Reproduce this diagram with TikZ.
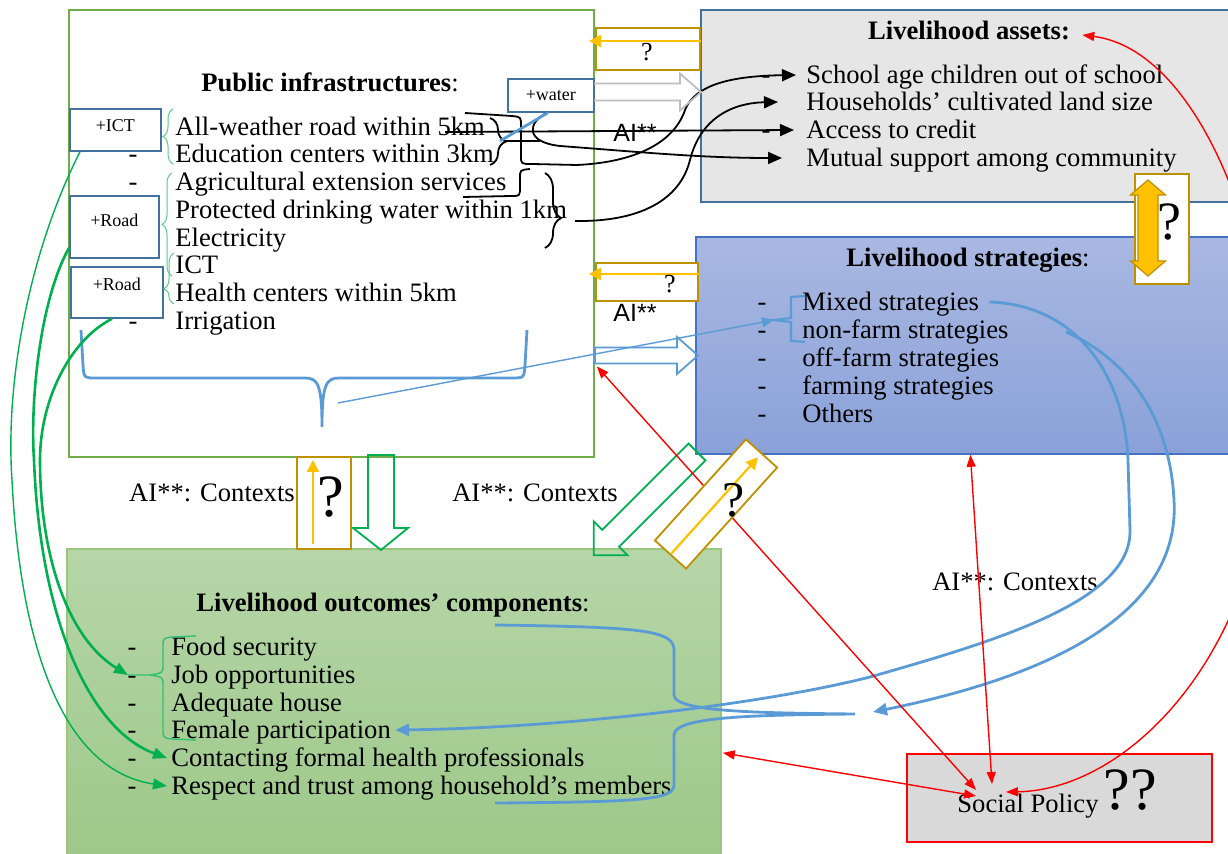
\documentclass[tikz,border=0pt]{standalone}
\usepackage{fontspec}
\setmainfont{Liberation Serif}
\newfontfamily\arialfont{Liberation Sans}
\usetikzlibrary{arrows.meta,decorations.pathreplacing}

\definecolor{infragreen}{HTML}{70AD47}
\definecolor{tagblue}{HTML}{41719C}
\definecolor{qgold}{HTML}{BF9000}
\definecolor{amber}{HTML}{FFC000}
\definecolor{arrgreen}{HTML}{00B050}
\definecolor{lineblue}{HTML}{5B9BD5}
\definecolor{assetgray}{HTML}{E7E6E6}
\definecolor{stratborder}{HTML}{4472C4}
\definecolor{strattop}{RGB}{169,184,226}
\definecolor{stratbot}{RGB}{138,161,216}
\definecolor{outtop}{RGB}{182,214,168}
\definecolor{outbot}{RGB}{157,200,137}
\definecolor{policygray}{HTML}{D9D9D9}
\definecolor{arrowgray}{RGB}{190,190,190}

\begin{document}
\begin{tikzpicture}[x=0.5pt, y=-0.5pt,
    box/.style={anchor=north west, inner sep=0pt, line width=0.9pt},
    item/.style={anchor=west, inner sep=0pt, text height=12pt, text depth=3pt, font=\fontsize{13.3}{16}\selectfont},
    hyph/.style={inner sep=0pt, text height=12pt, text depth=3pt, font=\fontsize{13.3}{16}\selectfont},
    head/.style={inner sep=0pt, text height=12pt, text depth=3pt, font=\fontsize{13.3}{16}\selectfont},
    tag/.style={draw=tagblue, line width=0.9pt, fill=white, anchor=north west, inner sep=0pt, font=\fontsize{9}{10}\selectfont},
    qbox/.style={draw=qgold, line width=0.9pt, fill=white, inner sep=0pt},
    qmark/.style={inner sep=0pt},
    qarrow/.style={amber, line width=1.1pt, -{Triangle[length=6pt,width=6pt]}},
    ctx/.style={inner sep=0pt, font=\fontsize{13.3}{16}\selectfont},
    ai/.style={inner sep=0pt, font=\arialfont\fontsize{12.5}{14}\selectfont},
    blk/.style={black, line width=0.9pt},
    blkarr/.style={blk, -{Triangle[length=7pt,width=6pt]}},
    redarr/.style={red, line width=0.7pt, {Triangle[length=6pt,width=4.5pt]}-{Triangle[length=6pt,width=4.5pt]}},
    bluethick/.style={lineblue, line width=1.4pt},
    bluethin/.style={lineblue, line width=0.7pt},
    grnthick/.style={arrgreen, line width=1.3pt, -{Triangle[length=7pt,width=5.5pt]}},
    grnthin/.style={arrgreen, line width=0.7pt, -{Triangle[length=7pt,width=5.5pt]}},
    gbrace/.style={arrgreen!65, line width=0.5pt, decorate, decoration={brace, amplitude=5pt}},
    bbrace/.style={blk, decorate, decoration={brace, amplitude=8pt}},
  ]
  \useasboundingbox (0,0) rectangle (1228,854);

  % Boxes
  \node[box, draw=infragreen, fill=white, minimum width=262.5pt, minimum height=223.5pt] (infra) at (68,9) {};
  \node[box, draw=tagblue, fill=assetgray, minimum width=266pt, minimum height=96pt] (assets) at (700,9) {};
  \node[box, draw=stratborder, top color=strattop, bottom color=stratbot, minimum width=268.5pt, minimum height=108.5pt] (strat) at (695,236) {};
  \node[box, draw=infragreen!70, top color=outtop, bottom color=outbot, minimum width=327pt, minimum height=155pt] (outc) at (66,548) {};
  \node[box, draw=red, fill=policygray, minimum width=152.5pt, minimum height=44pt] (social) at (906,753) {};

  % Public infrastructures
  \node[head] (ititle) at (330,83) {\textbf{Public infrastructures}:};
  \node[item] (i1) at (175,127) {All-weather road within 5km};
  \node[item] (i2) at (175,154) {Education centers within 3km};
  \node[item] (i3) at (175,182) {Agricultural extension services};
  \node[item] (i4) at (175,210) {Protected drinking water within 1km};
  \node[item] (i5) at (175,238) {Electricity};
  \node[item] (i6) at (175,265) {ICT};
  \node[item] (i7) at (175,293) {Health centers within 5km};
  \node[item] (i8) at (175,321) {Irrigation};
  \foreach \y/\n in {154/1,182/2,321/3} \node[hyph] (ih\n) at (133,\y) {-};

  % Livelihood assets
  \node[head] (atitle) at (969,31) {\textbf{Livelihood assets:}};
  \node[item] (a1) at (806,75) {School age children out of school};
  \node[item] (a2) at (806,102) {Households’ cultivated land size};
  \node[item] (a3) at (806,130) {Access to credit};
  \node[item] (a4) at (806,158) {Mutual support among community};
  \foreach \y/\n in {75/1,130/2} \node[hyph] (ah\n) at (766,\y) {-};

  % Livelihood strategies
  \node[head] (stitle) at (968,258) {\textbf{Livelihood strategies}:};
  \node[item] (s1) at (802,302) {Mixed strategies};
  \node[item] (s2) at (802,330) {non-farm strategies};
  \node[item] (s3) at (802,358) {off-farm strategies};
  \node[item] (s4) at (802,386) {farming strategies};
  \node[item] (s5) at (802,414) {Others};
  \foreach \y/\n in {302/1,330/2,358/3,386/4,414/5} \node[hyph] (sh\n) at (762,\y) {-};

  % Livelihood outcomes
  \node[head] (otitle) at (393,603) {\textbf{Livelihood outcomes’ components}:};
  \node[item] (o1) at (171,647) {Food security};
  \node[item] (o2) at (171,675) {Job opportunities};
  \node[item] (o3) at (171,703) {Adequate house};
  \node[item] (o4) at (171,730) {Female participation};
  \node[item] (o5) at (171,758) {Contacting formal health professionals};
  \node[item] (o6) at (171,786) {Respect and trust among household’s members};
  \foreach \y/\n in {647/1,675/2,703/3,730/4,758/5,786/6} \node[hyph] (oh\n) at (132,\y) {-};

  % Social policy
  \node[ctx] (sptext) at (1028,806) {Social Policy};
  \node[qmark, font=\fontsize{30}{30}\selectfont] (spq) at (1130,790) {??};

  % Context labels
  \node[ctx] (ctx1) at (212,493) {AI**: Contexts};
  \node[ctx] (ctx2) at (535,493) {AI**: Contexts};
  \node[ctx] (ctx3) at (1015,582) {AI**: Contexts};
  \node[ai] (ai1) at (635,133) {AI**};
  \node[ai] (ai2) at (635,313) {AI**};

  % Tags
  \node[tag, minimum width=45.5pt, minimum height=21pt, text depth=4pt] (ict) at (69,108) {+ICT};
  \node[tag, minimum width=44.5pt, minimum height=31pt, text depth=7pt] (road1) at (69,195) {+Road};
  \node[tag, minimum width=46pt, minimum height=25.5pt, text depth=8.5pt] (road2) at (70,266) {+Road};
  \node[tag, minimum width=43pt, minimum height=16.5pt] (water) at (507,78) {+water};

  % Green braces
  \draw[gbrace] (173,164) -- (173,109);
  \draw[gbrace, decoration={aspect=0.5}] (172,276) -- (172,173);
  \draw[gbrace, decoration={aspect=0.3}] (174,304) -- (174,253);
  \coordinate (obrace) at (128,675);
  \draw[arrgreen!80, line width=0.7pt] (196,636) -- (172,637) .. controls (163,638) .. (163,648) -- (163,664)
    .. controls (163,673) .. (150,675) -- (obrace);
  \draw[arrgreen!80, line width=0.7pt] (150,675) .. controls (163,677) .. (163,686) -- (163,728)
    .. controls (163,738) .. (172,739) -- (196,740);

  % Black braces and arrows to assets
  \draw[bbrace] (490,118) -- (490,165);
  \draw[bbrace, decoration={aspect=0.6}] (545,173) -- (545,248);
  \coordinate (hookA) at (465,113);
  \coordinate (hookB) at (463,197);
  \coordinate (credit0) at (445,132);
  \coordinate (bracetipB) at (575,221);
  \coordinate (school0) at (577,165);
  \draw[blk] (hookA) -- (512,116) .. controls (521,117) .. (521,126) -- (521,156)
    .. controls (521,164) .. (532,164) -- (school0);
  \draw[blk] (hookB) -- (512,196) .. controls (520,196) .. (520,186) -- (520,178)
    .. controls (520,170) .. (530,169);
  \draw[blk] (505,141) -- (540,141);
  \draw[blkarr] (credit0) -- ([xshift=-6pt]a3.west);
  \draw[blkarr] (school0) .. controls (640,162) and (675,140) .. (685,110)
    .. controls (695,85) and (730,76) .. ([xshift=-5pt]a1.west);
  \draw[blkarr] (bracetipB) .. controls (640,222) and (680,200) .. (690,160)
    .. controls (700,120) and (730,103) .. ([xshift=-14pt]a2.west);
  \draw[blkarr] ([xshift=-2pt]water.south) .. controls (528,122) and (524,142) .. (560,146)
    .. controls (640,152) and (700,158) .. ([xshift=-12pt]a4.west);
  \coordinate (wlink) at (500,141);
  \draw[bluethick] ([xshift=-1.5pt]water.south) -- (wlink);

  % Hollow arrows
  \draw[arrowgray, line width=0.9pt] (594,83.5) -- (680,83.5) -- (680,73.5) -- (701,92) -- (680,110.5) -- (680,100.5) -- (594,100.5);
  \draw[lineblue, line width=0.9pt] (595,347.5) -- (677,347.5) -- (677,337) -- (698,355.5) -- (677,374) -- (677,363.5) -- (595,363.5) -- cycle;
  \draw[arrgreen, line width=0.9pt] (368,455) -- (368,528) -- (353,528) -- (381,550) -- (408,528) -- (394,528) -- (394,455) -- cycle;
  \begin{scope}[shift={(697,452)}, rotate=225]
    \draw[arrgreen, line width=0.9pt] (0,-12) -- (122,-12) -- (122,-24) -- (146,0) -- (122,24) -- (122,12) -- (0,12) -- cycle;
  \end{scope}

  % Blue braces and curves
  \coordinate (brtip) at (338,403);
  \coordinate (sbrtip) at (774,320);
  \draw[bluethick] (81,330) -- (83,365) .. controls (84,378) .. (95,378) -- (305,378)
    .. controls (318,378) and (322,385) .. (322,427) .. controls (322,385) and (326,378) .. (339,378)
    -- (512,378) .. controls (524,378) .. (525,365) -- (527,330);
  \draw[bluethin, -{Triangle[length=6pt,width=5pt]}] (brtip) -- (sbrtip);
  \draw[bluethick, line width=1.1pt] (805,296) -- (791,297) -- (791,318) -- (sbrtip) -- (791,322) -- (791,341) -- (805,342);
  \coordinate (ostart) at (495,625);
  \coordinate (oend) at (495,803);
  \coordinate (obtip) at (855,714);
  \draw[bluethick] (ostart) .. controls (640,627) and (674,630) .. (674,650) -- (674,695)
    .. controls (674,712) and (760,713) .. (obtip) .. controls (760,715) and (674,716) .. (674,735)
    -- (674,785) .. controls (674,800) and (640,802) .. (oend);
  \draw[bluethick, -{Triangle[length=7pt,width=6pt]}] ([xshift=5pt]s1.east) .. controls (1080,305) and (1125,380) .. (1128,460)
    -- (1130,530) .. controls (1132,600) and (1000,640) .. (870,677)
    .. controls (760,705) and (560,728) .. ([xshift=2pt]o4.east);
  \coordinate (c2start) at (1066,332);
  \coordinate (c2end) at (873,712);
  \draw[bluethick, -{Triangle[length=7pt,width=6pt]}] (c2start) .. controls (1130,360) and (1170,420) .. (1174,500)
    .. controls (1180,600) and (1080,670) .. (c2end);

  % Green curves
  \draw[grnthin] ([xshift=5.5pt]ict.south west) .. controls (30,250) and (5,380) .. (12,480)
    .. controls (20,640) and (60,770) .. ([xshift=-2pt]o6.west);
  \draw[grnthick] ([yshift=-10.5pt]road1.west) .. controls (40,300) and (30,400) .. (34,460)
    .. controls (40,620) and (90,730) .. ([xshift=-2pt]o5.west);
  \draw[grnthick] ([xshift=21pt]road2.south west) .. controls (70,340) and (40,400) .. (40,460)
    .. controls (40,560) and (70,640) .. (obrace);

  % Red links to social policy
  \coordinate (hub) at (992,784);
  \draw[redarr] ([xshift=3pt]strat.south) -- (hub);
  \draw[redarr] ([xshift=1pt,yshift=-66.5pt]infra.east) -- ([xshift=-8pt,yshift=-3pt]hub);
  \draw[redarr] ([xshift=0.5pt,yshift=-24.5pt]outc.east) -- ([xshift=-8pt,yshift=-6pt]hub);
  \draw[redarr] ([xshift=6pt,yshift=-2pt]atitle.east) .. controls (1200,50) and (1275,250) .. (1272,420)
    .. controls (1268,650) and (1130,790) .. ([xshift=7pt,yshift=-4pt]hub);

  % Question boxes
  \node[qbox, anchor=north west, minimum width=52pt, minimum height=21pt] (qa) at (595,27) {};
  \draw[qarrow] ([yshift=-7pt]qa.north east) -- ([xshift=-3pt,yshift=-7pt]qa.north west);
  \node[qmark, font=\fontsize{13}{13}\selectfont] (qaq) at (647,52) {?};
  \node[qbox, anchor=north west, minimum width=51pt, minimum height=19pt] (qb) at (595,262) {};
  \draw[qarrow] ([yshift=-6pt]qb.north east) -- ([xshift=-3pt,yshift=-6pt]qb.north west);
  \node[qmark, font=\fontsize{13}{13}\selectfont] (qbq) at (670,284) {?};
  \node[qbox, anchor=north west, minimum width=27pt, minimum height=46pt] (qc) at (296,456) {};
  \draw[qarrow] ([xshift=8.5pt,yshift=3pt]qc.south west) -- ([xshift=8.5pt,yshift=-2pt]qc.north west);
  \node[qmark, font=\fontsize{30}{30}\selectfont] (qcq) at (331,497) {?};
  \node[qbox, minimum width=68pt, minimum height=21pt, rotate=48] (qd) at (716,504) {};
  \draw[qarrow, shorten <=1pt, shorten >=3pt] (qd.west) -- (qd.east);
  \node[qmark, font=\fontsize{25}{25}\selectfont] (qdq) at (734,500) {?};
  \node[qbox, anchor=north west, minimum width=27pt, minimum height=55pt] (qe) at (1134,173) {};
  \begin{scope}[shift={(1148,228)}]
    \draw[qgold, fill=amber, line width=0.6pt] (0,-48) -- (17.5,-33) -- (10,-33) -- (10,33) -- (17.5,33) -- (0,48)
      -- (-17.5,33) -- (-10,33) -- (-10,-33) -- (-17.5,-33) -- cycle;
  \end{scope}
  \node[qmark, font=\fontsize{27}{27}\selectfont] (qeq) at (1169,222) {?};
\end{tikzpicture}
\end{document}
